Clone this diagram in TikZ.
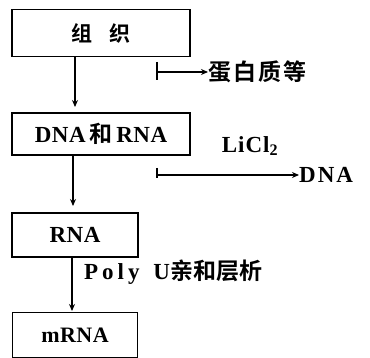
\documentclass[tikz,border=0pt]{standalone}
\usepackage{fontspec}
\usetikzlibrary{arrows.meta}
\setmainfont{Liberation Serif}
\newfontfamily\cjk{Noto Sans CJK SC}[BoldFont=* Bold]
\begin{document}
\begin{tikzpicture}[x=1pt,y=-1pt,
  box/.style={draw,line width=1.6pt,inner sep=0pt,font=\fontsize{23}{26}\selectfont\bfseries},
  lbl/.style={inner sep=0pt,font=\fontsize{23}{26}\selectfont\bfseries},
  arr/.style={line width=1.2pt,-{Stealth[length=7pt,width=6pt]}},
  tick/.style={line width=1.4pt}]
\useasboundingbox (0,0) rectangle (370,358);
\node[box,minimum width=178pt,minimum height=47pt] (b1) at (101,33) {\fontsize{21}{24}\selectfont\cjk\bfseries 组\hspace{0.8em}织};
\node[box,minimum width=178pt,minimum height=42pt] (b2) at (101,134) {D\kern0.5pt N\kern0.5pt A\,{\cjk\bfseries 和}\,R\kern0.5pt N\kern0.5pt A};
\node[box,minimum width=126pt,minimum height=44pt] (b3) at (75,235) {R\kern0.5pt N\kern0.5pt A};
\node[box,minimum width=125pt,minimum height=45pt] (b4) at (75,335) {\fontsize{22}{24}\selectfont m\kern0.5pt R\kern0.5pt N\kern0.5pt A};
% arrows down
\coordinate (a1s) at (75,57); \coordinate (a1e) at (75,107);
\draw[arr] (a1s) -- (a1e);
\coordinate (a2s) at (73,155); \coordinate (a2e) at (73,206);
\draw[arr] (a2s) -- (a2e);
\coordinate (a3s) at (72,257); \coordinate (a3e) at (72,311);
\draw[arr] (a3s) -- (a3e);
% branch 1
\coordinate (t1a) at (157,62); \coordinate (t1b) at (157,80); \coordinate (t1m) at (157,72);
\draw[tick] (t1a) -- (t1b);
\node[lbl,anchor=west] (p1) at (208,72) {\cjk\bfseries 蛋\kern2pt 白\kern2pt 质\kern2pt 等};
\draw[arr] (t1m) -- (p1.west);
% branch 2
\coordinate (t2a) at (157,168); \coordinate (t2b) at (157,178); \coordinate (t2m) at (157,175);
\draw[tick] (t2a) -- (t2b);
\node[lbl,anchor=west] (p2) at (299,175) {D\kern2pt N\kern2pt A};
\draw[arr] (t2m) -- (p2.west);
\node[lbl] (lic) at (250,146) {L\kern1pt i\kern1pt C\kern1pt l\textsubscript{2}};
% label 3
\node[lbl,anchor=west] (p3) at (84,272) {P\kern4pt o\kern4pt l\kern4pt y\hspace{0.6em}U{\cjk\bfseries 亲和层析}};
\end{tikzpicture}
\end{document}
